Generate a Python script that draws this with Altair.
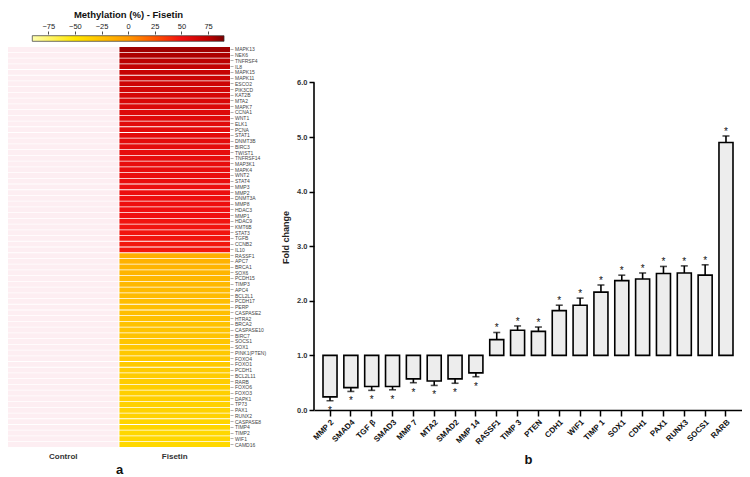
import altair as alt
import pandas as pd

# ---------------- panel a: promoter methylation heatmap ----------------
heat_genes = [
    "MAPK13", "NEK6", "TNFRSF4", "IL8", "MAPK15", "MAPK11", "ESCO2", "PIK3CD", "KAT2B",
    "MTA2", "MAPK7", "CCNA1", "WNT1", "ELK1", "PCNA", "STAT1", "DNMT3B", "BIRC3",
    "TWIST1", "TNFRSF14", "MAP3K1", "MAPK4", "WNT2", "STAT4", "MMP3", "MMP2", "DNMT3A",
    "MMP8", "HDAC3", "MMP1", "HDAC9", "KMT6B", "STAT3", "TGFB", "CCNB2", "IL10",
    "RASSF1", "APC7", "BRCA1", "SOX6", "PCDH15", "TIMP3", "APC4", "BCL2L1", "PCDH17",
    "PERP", "CASPASE2", "HTRA2", "BRCA2", "CASPASE10", "BIRC7", "SOCS1", "SOX1",
    "PINK1(PTEN)", "FOXO4", "FOXO1", "PCDH1", "BCL2L11", "RARB", "FOXO6", "FOXO3",
    "DAPK1", "TP73", "PAX1", "RUNX2", "CASPASE8", "TIMP4", "TIMP2", "WIF1", "CAMD16",
]
fisetin_meth = [
    82, 79, 76, 74, 72, 70, 68, 66, 64, 62, 61, 60, 59, 58, 57, 57, 56, 56,
    55, 55, 54, 54, 53, 53, 52, 52, 51, 51, 50, 50, 49, 49, 48, 48, 47, 47,
    -14, -16, -17, -18, -19, -20, -21, -22, -23, -24, -24, -25, -26, -27, -27,
    -28, -29, -30, -30, -31, -32, -33, -33, -34, -35, -35, -36, -37, -37, -38,
    -39, -40, -40, -41,
]
heat_groups = ["Control", "Fisetin"]
control_color = "#fdeef2"

# methylation colour scale (%), shared by the cells and the colour bar
meth_stops = [-90, -50, -25, 0, 25, 50, 75, 90]
meth_colors = ["#ffffb0", "#ffe600", "#ffc000", "#ff9900", "#ff5500", "#f01010", "#c00000", "#7a0000"]
cbar_ticks = [-75, -50, -25, 0, 25, 50, 75]

# ---------------- panel b: fold change ----------------
fc_genes = ["MMP 2", "SMAD4", "TGF β", "SMAD3", "MMP 7", "MTA2", "SMAD2", "MMP 14", "RASSF1",
            "TIMP 3", "PTEN", "CDH1", "WIF1", "TIMP 1", "SOX1", "CDH1", "PAX1", "RUNX3",
            "SOCS1", "RARB"]
fold_change = [0.24, 0.41, 0.43, 0.43, 0.57, 0.53, 0.57, 0.68, 1.29, 1.46, 1.44, 1.82, 1.92,
               2.16, 2.37, 2.40, 2.50, 2.51, 2.47, 4.90]
fold_err = [0.07, 0.07, 0.07, 0.06, 0.07, 0.08, 0.08, 0.07, 0.13, 0.08, 0.08, 0.10, 0.13,
            0.13, 0.10, 0.11, 0.13, 0.13, 0.19, 0.12]
fc_ticks = [0.0, 0.5, 1.0, 1.5, 2.0, 2.5, 3.0, 3.5, 4.0, 4.5, 5.0, 5.5, 6.0]
fc_baseline = 1.0

FONT = "Liberation Sans"

# ---- heatmap ----
control_df = pd.DataFrame({"group": heat_groups[0], "gene": heat_genes})
fisetin_df = pd.DataFrame({"group": heat_groups[1], "gene": heat_genes, "meth": fisetin_meth})

x_heat = alt.X(
    "group:N",
    sort=heat_groups,
    scale=alt.Scale(domain=heat_groups, paddingInner=0.008, paddingOuter=0),
    axis=alt.Axis(
        orient="bottom", labelAngle=0, ticks=False, domain=False,
        labelFontSize=8, labelFontWeight="bold", labelColor="#333", labelPadding=5,
        title="a", titleFontSize=13, titleFontWeight="bold", titleColor="#111", titlePadding=3,
    ),
)
y_heat = alt.Y(
    "gene:N",
    sort=heat_genes,
    scale=alt.Scale(paddingInner=0.14, paddingOuter=0),
    axis=alt.Axis(
        orient="right", title=None, domain=False, tickSize=3, tickWidth=0.5,
        tickColor="#666", labelFontSize=5, labelColor="#444", labelPadding=1.5,
    ),
)

control_cells = alt.Chart(control_df).mark_rect(color=control_color).encode(x=x_heat, y=y_heat)
fisetin_cells = alt.Chart(fisetin_df).mark_rect().encode(
    x=x_heat,
    y=y_heat,
    color=alt.Color(
        "meth:Q",
        scale=alt.Scale(domain=meth_stops, range=meth_colors, interpolate="rgb"),
        legend=None,
    ),
)
cells = alt.layer(control_cells, fisetin_cells)

# colour bar above the heatmap, drawn with the same stops
cbar_df = pd.DataFrame({"lo": [meth_stops[0]], "hi": [meth_stops[-1]]})
span = meth_stops[-1] - meth_stops[0]
cbar_fill = alt.Gradient(
    gradient="linear",
    stops=[alt.GradientStop(offset=(s - meth_stops[0]) / span, color=c)
           for s, c in zip(meth_stops, meth_colors)],
    x1=0, x2=1, y1=0, y2=0,
)
cbar = alt.Chart(cbar_df).mark_rect(fill=cbar_fill, stroke="#333", strokeWidth=0.7).encode(
    x=alt.X(
        "lo:Q",
        scale=alt.Scale(domain=[-112.8, 95.6], nice=False, zero=False),
        axis=alt.Axis(
            orient="top", values=cbar_ticks, offset=13, domain=False, grid=False,
            tickSize=3, tickWidth=0.8, tickColor="#222",
            labelFontSize=7.5, labelColor="#222", labelPadding=1,
            title="Methylation (%) - Fisetin", titleFontSize=9.5, titleFontWeight="bold",
            titleColor="#111", titlePadding=3, titleX=120,
        ),
    ),
    x2="hi:Q",
    y=alt.value(-11.3),
    y2=alt.value(-5.7),
)

heat_panel = alt.layer(cells, cbar).resolve_scale(x="independent").properties(width=222, height=400)

# ---- fold-change bars ----
fc_df = pd.DataFrame({"idx": list(range(len(fc_genes))), "fc": fold_change, "err": fold_err})
label_js = "[" + ",".join("'" + g + "'" for g in fc_genes) + "][datum.value]"

x_fc = alt.X(
    "idx:O",
    scale=alt.Scale(paddingInner=0.327, paddingOuter=0.432),
    axis=alt.Axis(
        labelExpr=label_js, labelAngle=-45, labelFontSize=8, labelFontWeight="bold",
        labelColor="#111", labelPadding=2, tickSize=6, tickWidth=1.5, tickColor="black",
        domainWidth=1.6, domainColor="black",
        title="b", titleFontSize=13, titleFontWeight="bold", titleColor="#111", titlePadding=8,
    ),
)
y_scale = alt.Scale(domain=[0, 6.65], nice=False, zero=True)
y_fc = alt.Y(
    "fc:Q",
    scale=y_scale,
    axis=alt.Axis(
        values=fc_ticks, format=".1f", domain=False, grid=False,
        tickSize=5, tickWidth=1.5, tickColor="black",
        labelFontSize=7.5, labelFontWeight="bold", labelColor="#333", labelPadding=2,
        title="Fold change", titleFontSize=9, titleFontWeight="bold", titleColor="#222",
        titlePadding=6, titleY=190,
    ),
)

base = alt.Chart(fc_df).transform_calculate(
    end=f"datum.fc < {fc_baseline} ? datum.fc - datum.err : datum.fc + datum.err"
)

bars = base.mark_bar(fill="#ededed", stroke="black", strokeWidth=1.6).encode(
    x=x_fc, y=y_fc, y2=alt.Y2Datum(fc_baseline)
)
err_lines = base.mark_rule(color="black", strokeWidth=1.6).encode(
    x="idx:O", y=alt.Y("fc:Q", scale=y_scale), y2="end:Q"
)
err_caps = base.mark_tick(color="black", thickness=1.6, size=7).encode(
    x="idx:O", y=alt.Y("end:Q", scale=y_scale)
)
stars_down = base.transform_filter(f"datum.fc < {fc_baseline}").mark_text(
    text="*", fontSize=10, dy=10, color="#111"
).encode(x="idx:O", y=alt.Y("end:Q", scale=y_scale))
stars_up = base.transform_filter(f"datum.fc >= {fc_baseline}").mark_text(
    text="*", fontSize=10, dy=-4, color="#111"
).encode(x="idx:O", y=alt.Y("end:Q", scale=y_scale))

# vertical axis line spanning the labelled tick range
axis_df = pd.DataFrame({"lo": [fc_ticks[0]], "hi": [fc_ticks[-1]]})
y_axis_line = alt.Chart(axis_df).mark_rule(color="black", strokeWidth=1.6).encode(
    x=alt.value(0), y=alt.Y("lo:Q", scale=y_scale), y2="hi:Q"
)

bar_panel = alt.layer(bars, err_lines, err_caps, stars_down, stars_up, y_axis_line).properties(
    width=428, height=363
)

chart = (
    alt.hconcat(heat_panel, bar_panel, spacing=84, bounds="flush")
    .properties(padding={"left": 8, "top": 9, "right": 0, "bottom": 0})
    .configure(font=FONT)
    .configure_view(stroke=None)
)

chart.save("out.html", embed_options={"renderer": "svg", "actions": False})
